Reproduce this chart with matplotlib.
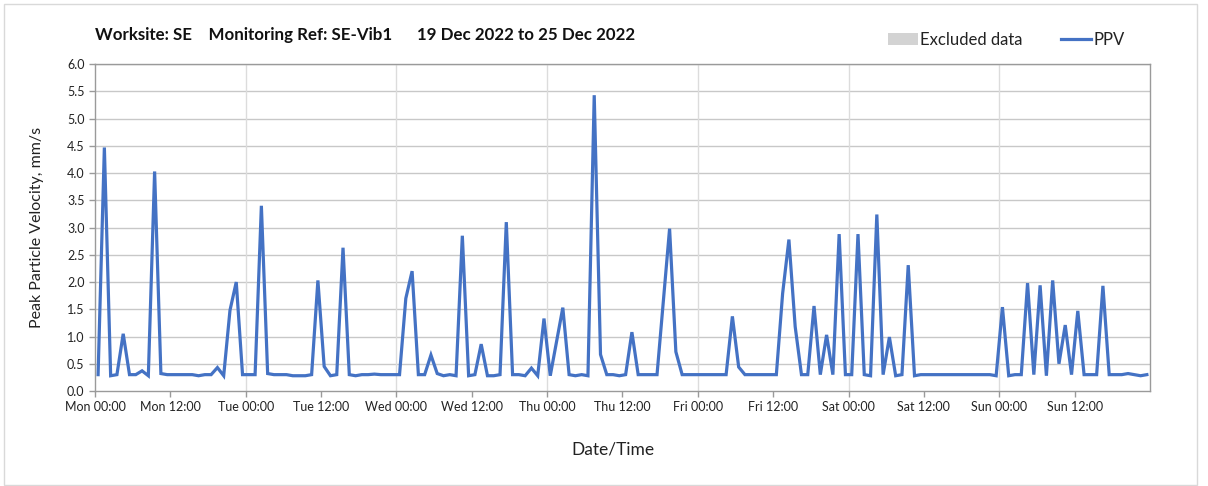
import matplotlib
matplotlib.use("Agg")
import matplotlib.pyplot as plt
from matplotlib.patches import Patch, Rectangle
from matplotlib.lines import Line2D

plt.rcParams['font.family'] = ['Lato', 'DejaVu Sans']

# hourly PPV readings, Mon 19 Dec 00:30 onwards (mm/s)
ppv = [
    0.30, 4.47, 0.28, 0.30, 1.05, 0.30, 0.30, 0.37, 0.28, 4.03,
    0.32, 0.30, 0.30, 0.30, 0.30, 0.30, 0.28, 0.30, 0.30, 0.43,
    0.28, 1.48, 2.00, 0.30, 0.30, 0.30, 3.40, 0.32, 0.30, 0.30,
    0.30, 0.28, 0.28, 0.28, 0.30, 2.03, 0.45, 0.28, 0.30, 2.63,
    0.30, 0.28, 0.30, 0.30, 0.31, 0.30, 0.30, 0.30, 0.30, 1.70,
    2.20, 0.30, 0.30, 0.66, 0.32, 0.28, 0.30, 0.28, 2.85, 0.28,
    0.30, 0.86, 0.28, 0.28, 0.30, 3.10, 0.30, 0.30, 0.28, 0.42,
    0.28, 1.33, 0.28, 0.90, 1.53, 0.30, 0.28, 0.30, 0.28, 5.43,
    0.67, 0.30, 0.30, 0.28, 0.30, 1.08, 0.30, 0.30, 0.30, 0.30,
    1.65, 2.98, 0.72, 0.30, 0.30, 0.30, 0.30, 0.30, 0.30, 0.30,
    0.30, 1.37, 0.44, 0.30, 0.30, 0.30, 0.30, 0.30, 0.30, 1.79,
    2.78, 1.18, 0.30, 0.30, 1.56, 0.30, 1.03, 0.30, 2.88, 0.30,
    0.30, 2.88, 0.30, 0.28, 3.24, 0.30, 0.99, 0.28, 0.30, 2.31,
    0.28, 0.30, 0.30, 0.30, 0.30, 0.30, 0.30, 0.30, 0.30, 0.30,
    0.30, 0.30, 0.30, 0.28, 1.54, 0.28, 0.30, 0.30, 1.98, 0.30,
    1.94, 0.28, 2.03, 0.50, 1.21, 0.30, 1.47, 0.30, 0.30, 0.30,
    1.93, 0.30, 0.30, 0.30, 0.32, 0.30, 0.28, 0.30,
]
hours = [i + 0.5 for i in range(len(ppv))]

days = ['Mon', 'Tue', 'Wed', 'Thu', 'Fri', 'Sat', 'Sun']
tick_labels = []
for d in days:
    tick_labels.append(d + ' 00:00')
    tick_labels.append(d + ' 12:00')
tick_pos = [12 * k for k in range(len(tick_labels))]

title = 'Worksite: SE    Monitoring Ref: SE-Vib1      19 Dec 2022 to 25 Dec 2022'

fig = plt.figure(figsize=(12.08, 4.86), dpi=100)
ax = fig.add_axes([0.0786, 0.1955, 0.8734, 0.6725])

ax.plot(hours, ppv, color='#4472C4', lw=2.3, solid_joinstyle='miter')

ax.set_xlim(0, 168)
ax.set_ylim(0, 6)
ax.set_yticks([k * 0.5 for k in range(13)])
ax.set_yticklabels(['%.1f' % (k * 0.5) for k in range(13)])
ax.set_xticks(tick_pos)
ax.set_xticklabels(tick_labels)

# grid: horizontal every 0.5, vertical only at midnight
for k in range(1, 13):
    ax.axhline(k * 0.5, color='#c8c8c8', lw=1.0, zorder=0)
for d in range(1, 7):
    ax.axvline(24 * d, color='#dcdcdc', lw=1.0, zorder=0)

for s in ax.spines.values():
    s.set_color('#9a9a9a')
    s.set_linewidth(1.0)
ax.tick_params(axis='both', colors='#9a9a9a', length=4, width=1.0,
               labelsize=9, labelcolor='#222222')
ax.tick_params(axis='x', pad=3)

ax.set_ylabel('Peak Particle Velocity, mm/s', fontsize=11.5, color='#222222')
ax.yaxis.set_label_coords(-0.048, 0.5)
ax.set_xlabel('Date/Time', fontsize=12.5, color='#222222')
ax.xaxis.set_label_coords(0.491, -0.155)

fig.text(0.0786, 0.928, title, fontsize=12.2, fontweight='bold', color='#111111',
         ha='left', va='center')

handles = [Patch(facecolor='#d3d3d3', edgecolor='none', label='Excluded data'),
           Line2D([], [], color='#4472C4', lw=2.3, label='PPV')]
fig.legend(handles=handles, loc='center', bbox_to_anchor=(0.833, 0.918), ncol=2,
           frameon=False, fontsize=12, handlelength=1.8, handletextpad=0.15,
           columnspacing=2.3, labelcolor='#222222')

fig.add_artist(Rectangle((4 / 1208, 1 / 486), 1193 / 1208, 481 / 486,
                         transform=fig.transFigure, fill=False,
                         edgecolor='#d9d9d9', lw=1.0))

fig.savefig('out.png', dpi=100)
